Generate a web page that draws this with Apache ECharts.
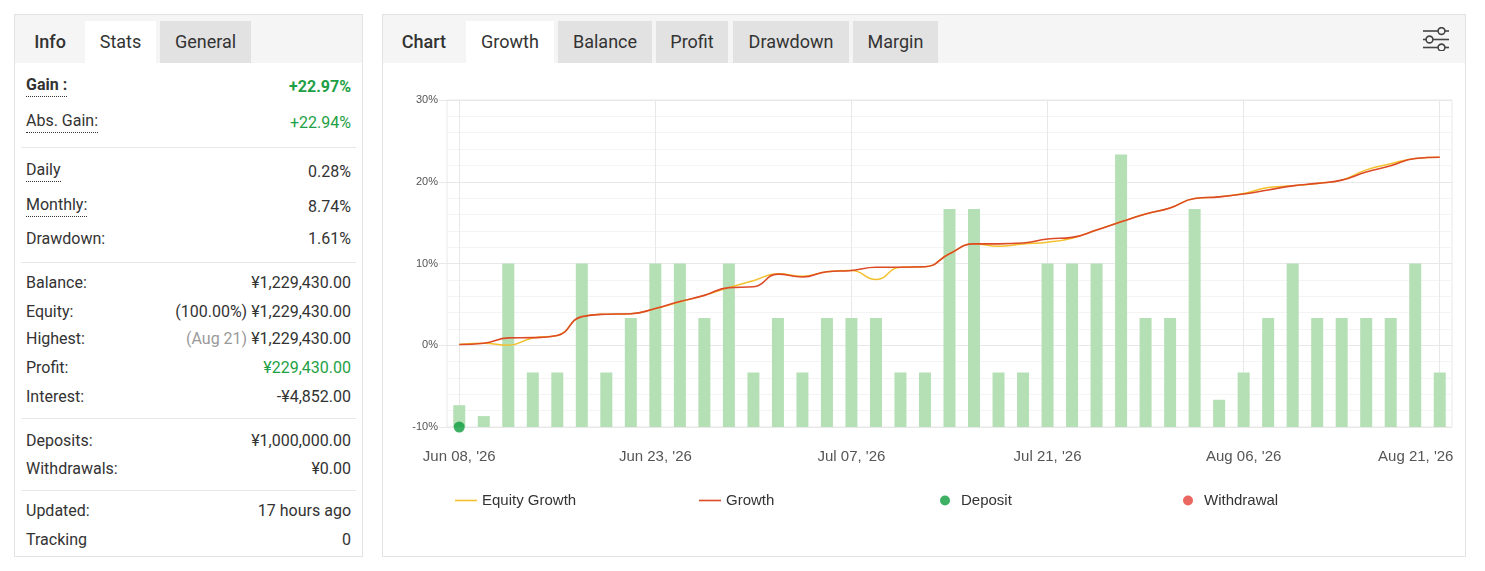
<!DOCTYPE html>
<html>
<head>
<meta charset="utf-8">
<title>Growth</title>
<script src="https://cdn.jsdelivr.net/npm/echarts@6/dist/echarts.min.js"></script>
<style>
  body { margin: 0; background: #fff; font-family: Roboto, "Noto Sans", Arial, sans-serif; color: #333; }
  .panel { position: absolute; top: 14px; height: 541px; border: 1px solid #e3e3e3; background: #fff; }
  .head { position: absolute; left: 0; top: 0; right: 0; height: 48px; background: #f5f5f5; }
  .tab { position: absolute; top: 6px; height: 42px; line-height: 42px; font-size: 18px; text-align: center; color: #333; }
  .tab.on { background: #fff; }
  .tab.off { background: #e2e2e2; }
  .tab.title { font-weight: 500; }
  .row { position: absolute; left: 11px; right: 11px; height: 20px; line-height: 20px; font-size: 16px; }
  .row .k { position: absolute; left: 0; }
  .row .v { position: absolute; right: 0; }
  .dot { border-bottom: 1px dotted #333; padding-bottom: 1px; position: relative; top: -2px; }
  .green { color: #1e9f45; }
  .grey { color: #9a9a9a; }
  .sep { position: absolute; left: 6px; right: 6px; height: 1px; background: #e8e8e8; }
  #chart { position: absolute; left: 0; top: 48px; width: 1082px; height: 493px; }
</style>
</head>
<body>
<div class="panel" style="left:14px;width:347px;">
  <div class="head">
    <div class="tab title" style="left:0;width:70px;">Info</div>
    <div class="tab on" style="left:70px;width:71px;">Stats</div>
    <div class="tab off" style="left:145px;width:91px;">General</div>
  </div>
  <div class="row" style="top:62px;"><span class="k dot" style="font-weight:bold;">Gain :</span><span class="v green" style="font-weight:bold;">+22.97%</span></div>
  <div class="row" style="top:98px;"><span class="k dot">Abs. Gain:</span><span class="v green">+22.94%</span></div>
  <div class="sep" style="top:132px;"></div>
  <div class="row" style="top:147px;"><span class="k dot">Daily</span><span class="v">0.28%</span></div>
  <div class="row" style="top:182px;"><span class="k dot">Monthly:</span><span class="v">8.74%</span></div>
  <div class="row" style="top:214px;"><span class="k">Drawdown:</span><span class="v">1.61%</span></div>
  <div class="sep" style="top:247px;"></div>
  <div class="row" style="top:258px;"><span class="k">Balance:</span><span class="v">¥1,229,430.00</span></div>
  <div class="row" style="top:287px;"><span class="k">Equity:</span><span class="v">(100.00%) ¥1,229,430.00</span></div>
  <div class="row" style="top:314px;"><span class="k">Highest:</span><span class="v"><span class="grey">(Aug 21)</span> ¥1,229,430.00</span></div>
  <div class="row" style="top:343px;"><span class="k">Profit:</span><span class="v green">¥229,430.00</span></div>
  <div class="row" style="top:372px;"><span class="k">Interest:</span><span class="v">-¥4,852.00</span></div>
  <div class="sep" style="top:403px;"></div>
  <div class="row" style="top:416px;"><span class="k">Deposits:</span><span class="v">¥1,000,000.00</span></div>
  <div class="row" style="top:444px;"><span class="k">Withdrawals:</span><span class="v">¥0.00</span></div>
  <div class="sep" style="top:475px;"></div>
  <div class="row" style="top:486px;"><span class="k">Updated:</span><span class="v">17 hours ago</span></div>
  <div class="row" style="top:515px;"><span class="k">Tracking</span><span class="v">0</span></div>
</div>

<div class="panel" style="left:382px;width:1082px;">
  <div class="head">
    <div class="tab title" style="left:3px;width:76px;">Chart</div>
    <div class="tab on" style="left:83px;width:88px;">Growth</div>
    <div class="tab off" style="left:175px;width:94px;">Balance</div>
    <div class="tab off" style="left:273px;width:72px;">Profit</div>
    <div class="tab off" style="left:350px;width:116px;">Drawdown</div>
    <div class="tab off" style="left:470px;width:85px;">Margin</div>
    <svg style="position:absolute;left:1038px;top:12px;" width="30" height="24" viewBox="0 0 30 24">
      <g stroke="#444" stroke-width="1.6" fill="#f5f5f5">
        <line x1="2" y1="4" x2="28" y2="4"/>
        <line x1="2" y1="12.5" x2="28" y2="12.5"/>
        <line x1="2" y1="20.5" x2="28" y2="20.5"/>
        <circle cx="20.5" cy="4" r="3.4"/>
        <circle cx="8.5" cy="12.5" r="3.4"/>
        <circle cx="20.5" cy="20.5" r="3.4"/>
      </g>
    </svg>
  </div>
  <div id="chart"></div>
</div>

<script>
const dates = [
  "Jun 08, '26", "Jun 09, '26", "Jun 10, '26", "Jun 11, '26", "Jun 15, '26", "Jun 16, '26", "Jun 18, '26", "Jun 22, '26",
  "Jun 23, '26", "Jun 24, '26", "Jun 25, '26", "Jun 29, '26", "Jun 30, '26", "Jul 01, '26", "Jul 02, '26", "Jul 06, '26",
  "Jul 07, '26", "Jul 08, '26", "Jul 09, '26", "Jul 13, '26", "Jul 14, '26", "Jul 15, '26", "Jul 16, '26", "Jul 20, '26",
  "Jul 21, '26", "Jul 22, '26", "Jul 23, '26", "Jul 27, '26", "Jul 28, '26", "Jul 30, '26", "Aug 03, '26", "Aug 05, '26",
  "Aug 06, '26", "Aug 07, '26", "Aug 10, '26", "Aug 12, '26", "Aug 13, '26", "Aug 17, '26", "Aug 18, '26", "Aug 20, '26",
  "Aug 21, '26"
]

// growth in %
const growth = [
  0.1, 0.25, 0.9, 0.93, 1.2, 3.5, 3.8, 3.85,
  4.5, 5.35, 6.1, 7.05, 7.15, 8.7, 8.35, 9.0,
  9.15, 9.55, 9.55, 9.6, 11.2, 12.4, 12.4, 12.5,
  13.0, 13.2, 14.1, 15.1, 16.05, 16.8, 17.95, 18.15,
  18.5, 19.0, 19.5, 19.8, 20.2, 21.2, 21.95, 22.85,
  23.0
]

const equityGrowth = [
  0.1, 0.25, 0.0, 0.9, 1.2, 3.5, 3.8, 3.85,
  4.5, 5.3, 6.1, 7.05, 7.9, 8.75, 8.45, 9.0,
  9.15, 8.05, 9.55, 9.6, 11.2, 12.4, 12.1, 12.4,
  12.6, 13.1, 14.1, 15.1, 16.05, 16.8, 17.95, 18.15,
  18.55, 19.3, 19.5, 19.8, 20.2, 21.45, 22.2, 22.85,
  23.0
]

// trades per day (hidden right axis)
const trades = [
  0.4, 0.2, 3, 1, 1, 3, 1, 2,
  3, 3, 2, 3, 1, 2, 1, 2,
  2, 2, 1, 1, 4, 4, 1, 1,
  3, 3, 3, 5, 2, 2, 4, 0.5,
  1, 2, 3, 2, 2, 2, 2, 3,
  1
]

const deposits = [[0, -10]]
const withdrawals = []

const yTicks = { min: -10, max: 30, interval: 10 }

const legendNames = ['Equity Growth', 'Growth', 'Deposit', 'Withdrawal']
const legendLeft = [67, 311, 552, 795]
const lineIcon = 'path://M0,0H22V1.6H0Z'

const chart = echarts.init(document.getElementById('chart'))
const font = 'Arial, "Liberation Sans", sans-serif'
chart.setOption({
  animation: false,
  textStyle: { fontFamily: font },
  grid: {
    left: 64, right: 13, top: 37, bottom: 129,
    containLabel: false,
    outerBoundsMode: 'none',
    show: true, borderColor: '#e8e8e8', borderWidth: 1,
  },
  legend: legendNames.map((name, i) => ({
    left: legendLeft[i],
    top: 425,
    itemWidth: 22,
    itemHeight: 10,
    textStyle: { fontSize: 15, color: '#333', fontFamily: font },
    data: [{ name, icon: i < 2 ? lineIcon : 'circle' }],
  })),
  xAxis: {
    type: 'category',
    data: dates,
    boundaryGap: true,
    axisLine: { lineStyle: { color: '#e8e8e8' } },
    axisTick: { show: false },
    axisLabel: {
      interval: 7, color: '#555', fontSize: 15, margin: 22,
      // last label is pulled back inside the plot like the original
      formatter: (v, i) => (i === dates.length - 1 ? '{last|' + v + '}' : v),
      rich: { last: { fontSize: 15, color: '#555', fontFamily: font, padding: [0, 48, 0, 0] } },
    },
    splitLine: { show: true, interval: 7, alignWithLabel: true, lineStyle: { color: '#e8e8e8' } },
  },
  yAxis: [
    {
      type: 'value',
      min: yTicks.min,
      max: yTicks.max,
      interval: yTicks.interval,
      axisLine: { show: false },
      axisTick: { show: true, length: 8, lineStyle: { color: '#e8e8e8' } },
      axisLabel: { formatter: '{value}%', color: '#555', fontSize: 11, margin: 9 },
      splitLine: { lineStyle: { color: '#e8e8e8' } },
      minorTick: { show: false, splitNumber: 5 },
      minorSplitLine: { show: true, lineStyle: { color: '#f4f4f4' } },
    },
    { type: 'value', min: 0, max: 6, show: false, splitLine: { show: false } },
  ],
  series: [
    {
      name: 'Trades',
      type: 'bar',
      yAxisIndex: 1,
      data: trades,
      barWidth: 12,
      itemStyle: { color: '#b5dfb5' },
      z: 1,
    },
    {
      name: 'Equity Growth',
      type: 'line',
      data: equityGrowth,
      smooth: true,
      symbol: 'none',
      lineStyle: { color: '#f4c02c', width: 1.5 },
      itemStyle: { color: '#f4c02c' },
      z: 3,
    },
    {
      name: 'Growth',
      type: 'line',
      data: growth,
      smooth: true,
      symbol: 'none',
      lineStyle: { color: '#dc4a26', width: 1.6 },
      itemStyle: { color: '#dc4a26' },
      z: 4,
    },
    {
      name: 'Deposit',
      type: 'scatter',
      data: deposits,
      symbolSize: 11,
      itemStyle: { color: '#0e9c3c' },
      z: 5,
    },
    {
      name: 'Withdrawal',
      type: 'scatter',
      data: withdrawals,
      symbolSize: 11,
      itemStyle: { color: '#e5423a' },
      z: 5,
    },
  ],
})
</script>
</body>
</html>
